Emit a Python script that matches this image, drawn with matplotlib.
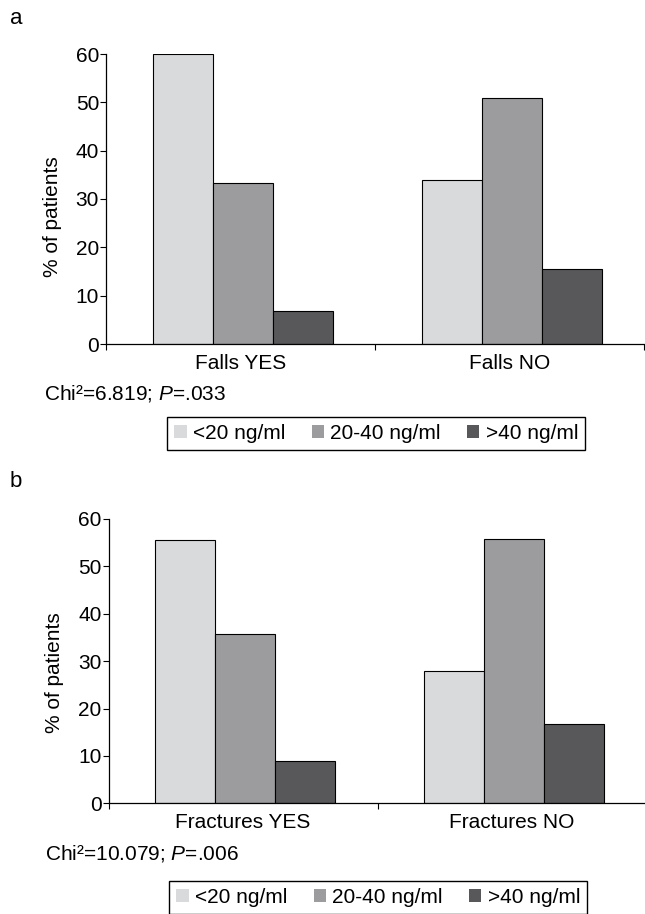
import matplotlib
matplotlib.use("Agg")
import matplotlib.pyplot as plt
from matplotlib.patches import Patch
import numpy as np

plt.rcParams['font.family'] = ['Liberation Sans', 'DejaVu Sans']
plt.rcParams['mathtext.fontset'] = 'custom'
plt.rcParams['mathtext.rm'] = 'Liberation Sans'
plt.rcParams['mathtext.it'] = 'Liberation Sans:italic'

# ---------------- data ----------------
series_names = ['<20 ng/ml', '20-40 ng/ml', '>40 ng/ml']
series_colors = ['#d9dadc', '#9c9c9e', '#58585a']

falls_categories = ['Falls YES', 'Falls NO']
falls_lt20 = [60.0, 33.9]
falls_20_40 = [33.3, 50.9]
falls_gt40 = [6.8, 15.6]
falls_stat = r'Chi²=6.819; $\mathit{P}$=.033'

fract_categories = ['Fractures YES', 'Fractures NO']
fract_lt20 = [55.6, 27.9]
fract_20_40 = [35.8, 55.8]
fract_gt40 = [8.9, 16.8]
fract_stat = r'Chi²=10.079; $\mathit{P}$=.006'

y_ticks = [0, 10, 20, 30, 40, 50, 60]
y_label = '% of patients'

# ---------------- layout ----------------
W, H = 645, 914
FS = 15
fig = plt.figure(figsize=(W / 100, H / 100), dpi=100)


def px_axes(left, right, top, bottom):
    return fig.add_axes([left / W, 1 - bottom / H, (right - left) / W, (bottom - top) / H])


def draw_panel(ax, cats, series, ylabel_x, ylabel_y):
    x = np.arange(len(cats))
    bw = 0.2225
    offsets = [-bw, 0, bw]
    for vals, off, col in zip(series, offsets, series_colors):
        ax.bar(x + off + 0.008, vals, width=bw, color=col, edgecolor='black',
               linewidth=0.8, zorder=2)
    ax.set_xlim(-0.5, len(cats) - 0.5)
    ax.set_ylim(0, 60)
    ax.set_yticks(y_ticks)
    ax.set_xticks(x)
    ax.set_xticklabels(cats, fontsize=FS)
    ax.set_xticks(np.arange(len(cats) + 1) - 0.5, minor=True)
    ax.tick_params(axis='x', which='major', length=0, pad=7)
    ax.tick_params(axis='x', which='minor', length=4, width=0.8, direction='out')
    ax.tick_params(axis='y', length=4, width=0.8, direction='out', pad=1, labelsize=FS)
    for s in ['top', 'right']:
        ax.spines[s].set_visible(False)
    for s in ['left', 'bottom']:
        ax.spines[s].set_linewidth(0.9)
        ax.spines[s].set_color('black')
    ax.set_ylabel(y_label, fontsize=FS)
    ax.yaxis.set_label_coords(ylabel_x, ylabel_y)


ax_a = px_axes(106, 644.3, 54, 344)
draw_panel(ax_a, falls_categories, [falls_lt20, falls_20_40, falls_gt40], -0.082, 0.44)

ax_b = px_axes(108.5, 646.5, 519, 803.3)
draw_panel(ax_b, fract_categories, [fract_lt20, fract_20_40, fract_gt40], -0.083, 0.46)

fig.text(16 / W, 1 - 19 / H, 'a', fontsize=16, ha='center', va='center')
fig.text(16 / W, 1 - 481 / H, 'b', fontsize=16, ha='center', va='center')

fig.text(44 / W, 1 - 393 / H, falls_stat, fontsize=FS, ha='left', va='center')
fig.text(45 / W, 1 - 853 / H, fract_stat, fontsize=FS, ha='left', va='center')

handles = [Patch(facecolor=c, edgecolor='none') for c in series_colors]


def add_legend(cx, cy):
    leg = fig.legend(handles, series_names, loc='center',
                     bbox_to_anchor=(cx / W, 1 - cy / H), ncol=3,
                     fontsize=FS, frameon=True, fancybox=False, shadow=False,
                     handlelength=0.6, handleheight=0.6, handletextpad=0.3,
                     columnspacing=1.25, borderpad=0.35, borderaxespad=0)
    fr = leg.get_frame()
    fr.set_edgecolor('black')
    fr.set_linewidth(1.0)
    fr.set_alpha(1)
    return leg


add_legend((167.7 + 585) / 2, (416.7 + 450.7) / 2)
add_legend((169.3 + 587.3) / 2, 880.7 + 17)

fig.savefig('out.png', dpi=100)
